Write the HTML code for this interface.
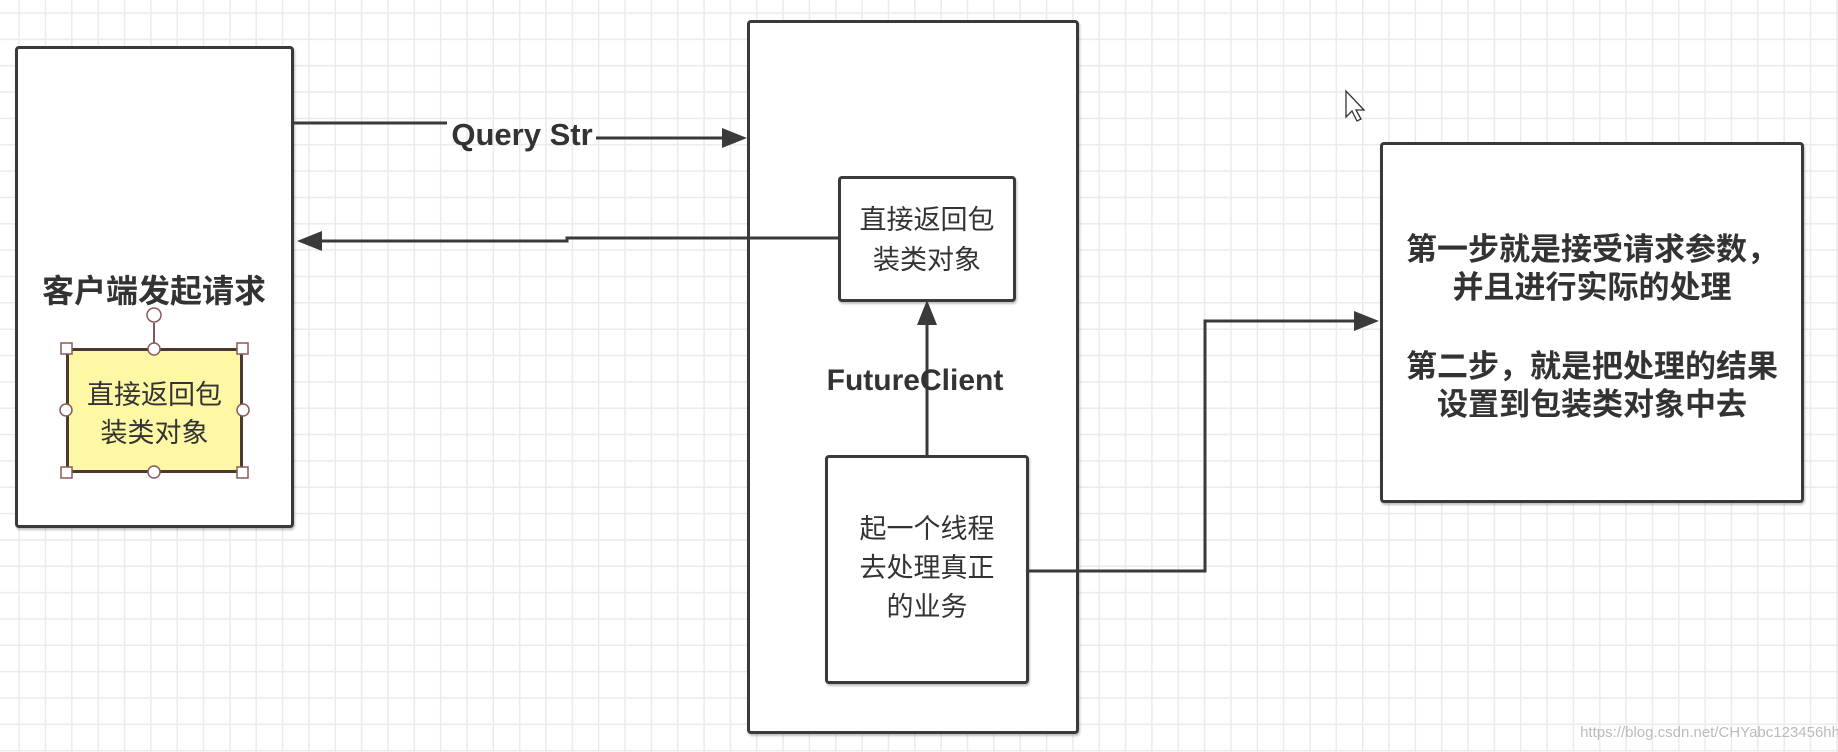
<!DOCTYPE html>
<html><head><meta charset="utf-8"><style>
html,body{margin:0;padding:0;}
body{width:1838px;height:752px;overflow:hidden;position:relative;background:#fff;
background-image:linear-gradient(to right,#ebebeb 1.5px,transparent 1.5px),linear-gradient(to bottom,#ebebeb 1.5px,transparent 1.5px);
background-size:26.35px 26.35px;background-position:18.4px 12.3px;
font-family:"Liberation Sans","Noto Sans CJK SC",sans-serif;color:#333;}
.box{position:absolute;border:3px solid #3a3a3a;border-radius:4px;background:#fff;box-sizing:border-box;box-shadow:1px 2px 2px rgba(0,0,0,.25);}
.t{position:absolute;text-align:center;white-space:nowrap;}
.b{font-weight:700;}
</style></head><body>
<div class="box" style="left:15px;top:46px;width:279px;height:482px;"></div>
<div class="box" style="left:747px;top:20px;width:332px;height:714px;"></div>
<div class="box" style="left:1380px;top:142px;width:424px;height:361px;"></div>
<div class="box" style="left:838px;top:176px;width:178px;height:126px;"></div>
<div class="box" style="left:825px;top:455px;width:204px;height:229px;"></div>
<div style="position:absolute;left:66px;top:348px;width:177px;height:125px;box-sizing:border-box;border:3px solid #4a3a30;background:#fdf7a6;"></div>

<svg width="1838" height="752" style="position:absolute;left:0;top:0" xmlns="http://www.w3.org/2000/svg">
<g stroke="#3a3a3a" stroke-width="3" fill="none">
<polyline points="294,123 447,123"/>
<polyline points="596,138 725,138"/>
<polyline points="838,238 567,238 567,241 318,241"/>
<polyline points="927,455 927,322"/>
<polyline points="1029,571 1205,571 1205,321 1358,321"/>
<line x1="154" y1="323" x2="154" y2="348" stroke="#7a5a5a" stroke-width="2"/>
</g>
<g fill="#3a3a3a">
<polygon points="747,138 722,128 722,148"/>
<polygon points="297,241 322,231 322,251"/>
<polygon points="927,300 917,325 937,325"/>
<polygon points="1379,321 1354,311 1354,331"/>
</g>
<g fill="#fff" stroke="#8a5a5a" stroke-width="1.5">
<circle cx="154" cy="315" r="7"/>
<rect x="61" y="343" width="11" height="11"/><rect x="237" y="343" width="11" height="11"/>
<rect x="61" y="467" width="11" height="11"/><rect x="237" y="467" width="11" height="11"/>
<circle cx="154" cy="349" r="6"/><circle cx="154" cy="472" r="6"/>
<circle cx="66" cy="410" r="6"/><circle cx="243" cy="410" r="6"/>
</g>
<polygon points="1346,91 1346,117 1352,111 1357,121 1361,119 1356,110 1364,110" fill="#fff" stroke="#333" stroke-width="1.3"/>
</svg>

<div class="t b" style="left:440px;top:116px;width:164px;font-size:31px;line-height:38px;">Query Str</div>
<div class="t b" style="left:20px;top:271px;width:268px;font-size:32px;line-height:40px;">客户端发起请求</div>
<div class="t" style="left:66px;top:376px;width:177px;font-size:27px;line-height:38px;">直接返回包<br>装类对象</div>
<div class="t" style="left:838px;top:200px;width:178px;font-size:27px;line-height:40px;">直接返回包<br>装类对象</div>
<div class="t b" style="left:800px;top:362px;width:230px;font-size:30px;line-height:38px;">FutureClient</div>
<div class="t" style="left:825px;top:510px;width:204px;font-size:27px;line-height:39px;">起一个线程<br>去处理真正<br>的业务</div>
<div class="t b" style="left:1380px;top:231px;width:424px;font-size:31px;line-height:38px;">第一步就是接受请求参数，<br>并且进行实际的处理</div>
<div class="t b" style="left:1380px;top:348px;width:424px;font-size:31px;line-height:38px;">第二步，就是把处理的结果<br>设置到包装类对象中去</div>
<div class="t" style="left:1540px;top:724px;width:300px;font-size:15px;color:#bbb;text-align:right;">https://blog.csdn.net/CHYabc123456hh</div>
</body></html>
